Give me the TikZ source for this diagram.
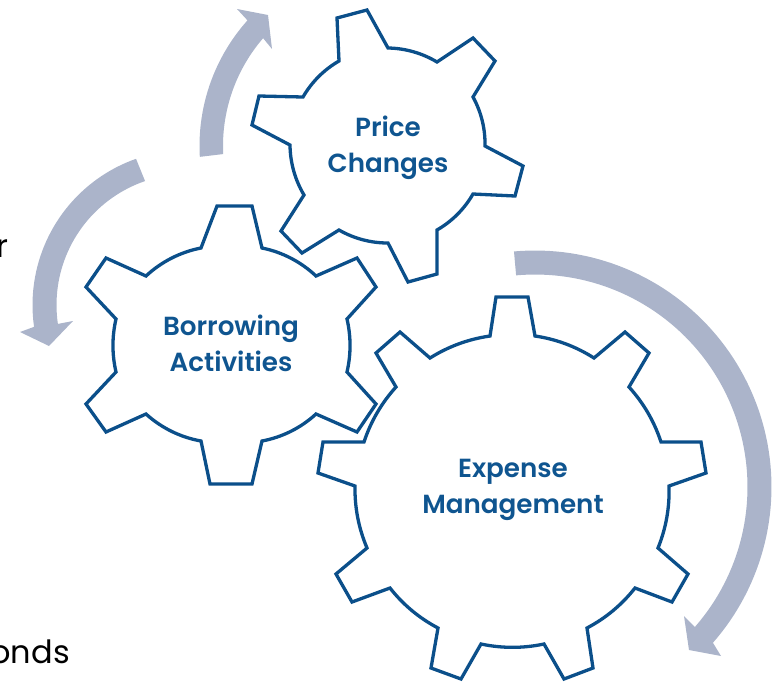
\documentclass[tikz,border=0pt]{standalone}
\usepackage{fontspec}
\setmainfont{Poppins}
\newfontfamily\gearfont{Poppins SemiBold}
\definecolor{gearline}{HTML}{0B4F8A}
\definecolor{geartext}{HTML}{0F5590}
\definecolor{swoosh}{HTML}{ABB4CA}
\tikzset{
  gear/.style={draw=gearline,line width=3.3pt,line join=miter,miter limit=4,fill=white},
  gearlabel/.style={text=geartext,font=\gearfont\fontsize{26.2}{36}\selectfont,align=center,inner sep=0pt},
  cycle arrow/.style={fill=swoosh,draw=none},
  stray/.style={text=black,font=\fontsize{32}{38}\selectfont,anchor=base east,inner sep=0pt},
  A/.style={bend left=#1,looseness=.87}
}
\begin{document}
\begin{tikzpicture}[x=1pt,y=-1pt]
\useasboundingbox (0,0) rectangle (782,681);
\clip (0,0) rectangle (782,681);
% arrows
\fill[cycle arrow] plot[domain=176.7:221.8,samples=40] ({388+188.5*cos(\x)},{146+188.5*sin(\x)}) -- (237,9) -- (268,15) -- (272,49) -- plot[domain=220.8:177.2,samples=40] ({388+165*cos(\x)},{146+165*sin(\x)}) -- cycle;
\fill[cycle arrow] plot[domain=250.6:171.9,samples=40] ({187.5+155*cos(\x)},{305+155*sin(\x)}) -- (20,332) -- (49,346) -- (73,321) -- plot[domain=171.7:251.1,samples=40] ({187.5+131*cos(\x)},{305+131*sin(\x)}) -- cycle;
\fill[cycle arrow] plot[domain=-95.1:41.2,samples=80] ({535+236.5*cos(\x)},{487+236.5*sin(\x)}) -- (721,656) -- (689,650) -- (684,616) -- plot[domain=41.2:-95.1,samples=80] ({535+212.5*cos(\x)},{487+212.5*sin(\x)}) -- cycle;
% gears
\draw[gear] (217,206) -- (252,206) -- (262,248) to[A=16] (316,276) -- (357,258) -- (376,287) -- (347,319) to[A=13] (347,372) -- (376,404) -- (357,432) -- (316,414) to[A=16] (262,441) -- (252,484) -- (210,484) -- (201,441) to[A=16] (146,414) -- (106,432) -- (86,404) -- (116,372) to[A=13] (116,319) -- (86,287) -- (106,258) -- (146,276) to[A=16] (201,248) -- cycle;
\draw[gear] (337,18) -- (367,10) -- (388,48) to[A=15] (437,62) -- (473,38) -- (495,61) -- (473,97) to[A=15] (485,146) -- (523,166) -- (515,196) -- (473,194) to[A=15] (437,230) -- (437,274) -- (408,282) -- (388,243) to[A=15] (339,230) -- (302,253) -- (281,231) -- (304,195) to[A=15] (290,145) -- (252,125) -- (259,96) -- (303,97) to[A=15] (339,61) -- cycle;
\draw[gear,fill=none] (496,297) -- (528,297) -- (535,336) to[A=12] (594,358) -- (625,332) -- (649,353) -- (629,387) to[A=12] (661,442) -- (701,442) -- (706,473) -- (669,486) to[A=12] (658,548) -- (688,574) -- (672,602) -- (635,588) to[A=12] (587,628) -- (593,668) -- (564,679) -- (544,644) to[A=12] (481,644) -- (461,679) -- (431,668) -- (438,628) to[A=12] (390,588) -- (352,602) -- (336,574) -- (367,548) to[A=12] (355,486) -- (318,473) -- (323,442) -- (364,442) to[A=12] (396,387) -- (376,353) -- (400,332) -- (430,358) to[A=12] (490,336) -- cycle;
% labels
\node[gearlabel] (price) at (388,148) {Price\\Changes};
\node[gearlabel] (borrow) at (231,343) {Borrowing\\Activities};
\node[gearlabel] (expense) at (513,490) {Expense\\Management};
\node[stray] (straya) at (9,257) {r};
\node[stray] (strayb) at (70,663) {onds};
\end{tikzpicture}
\end{document}
